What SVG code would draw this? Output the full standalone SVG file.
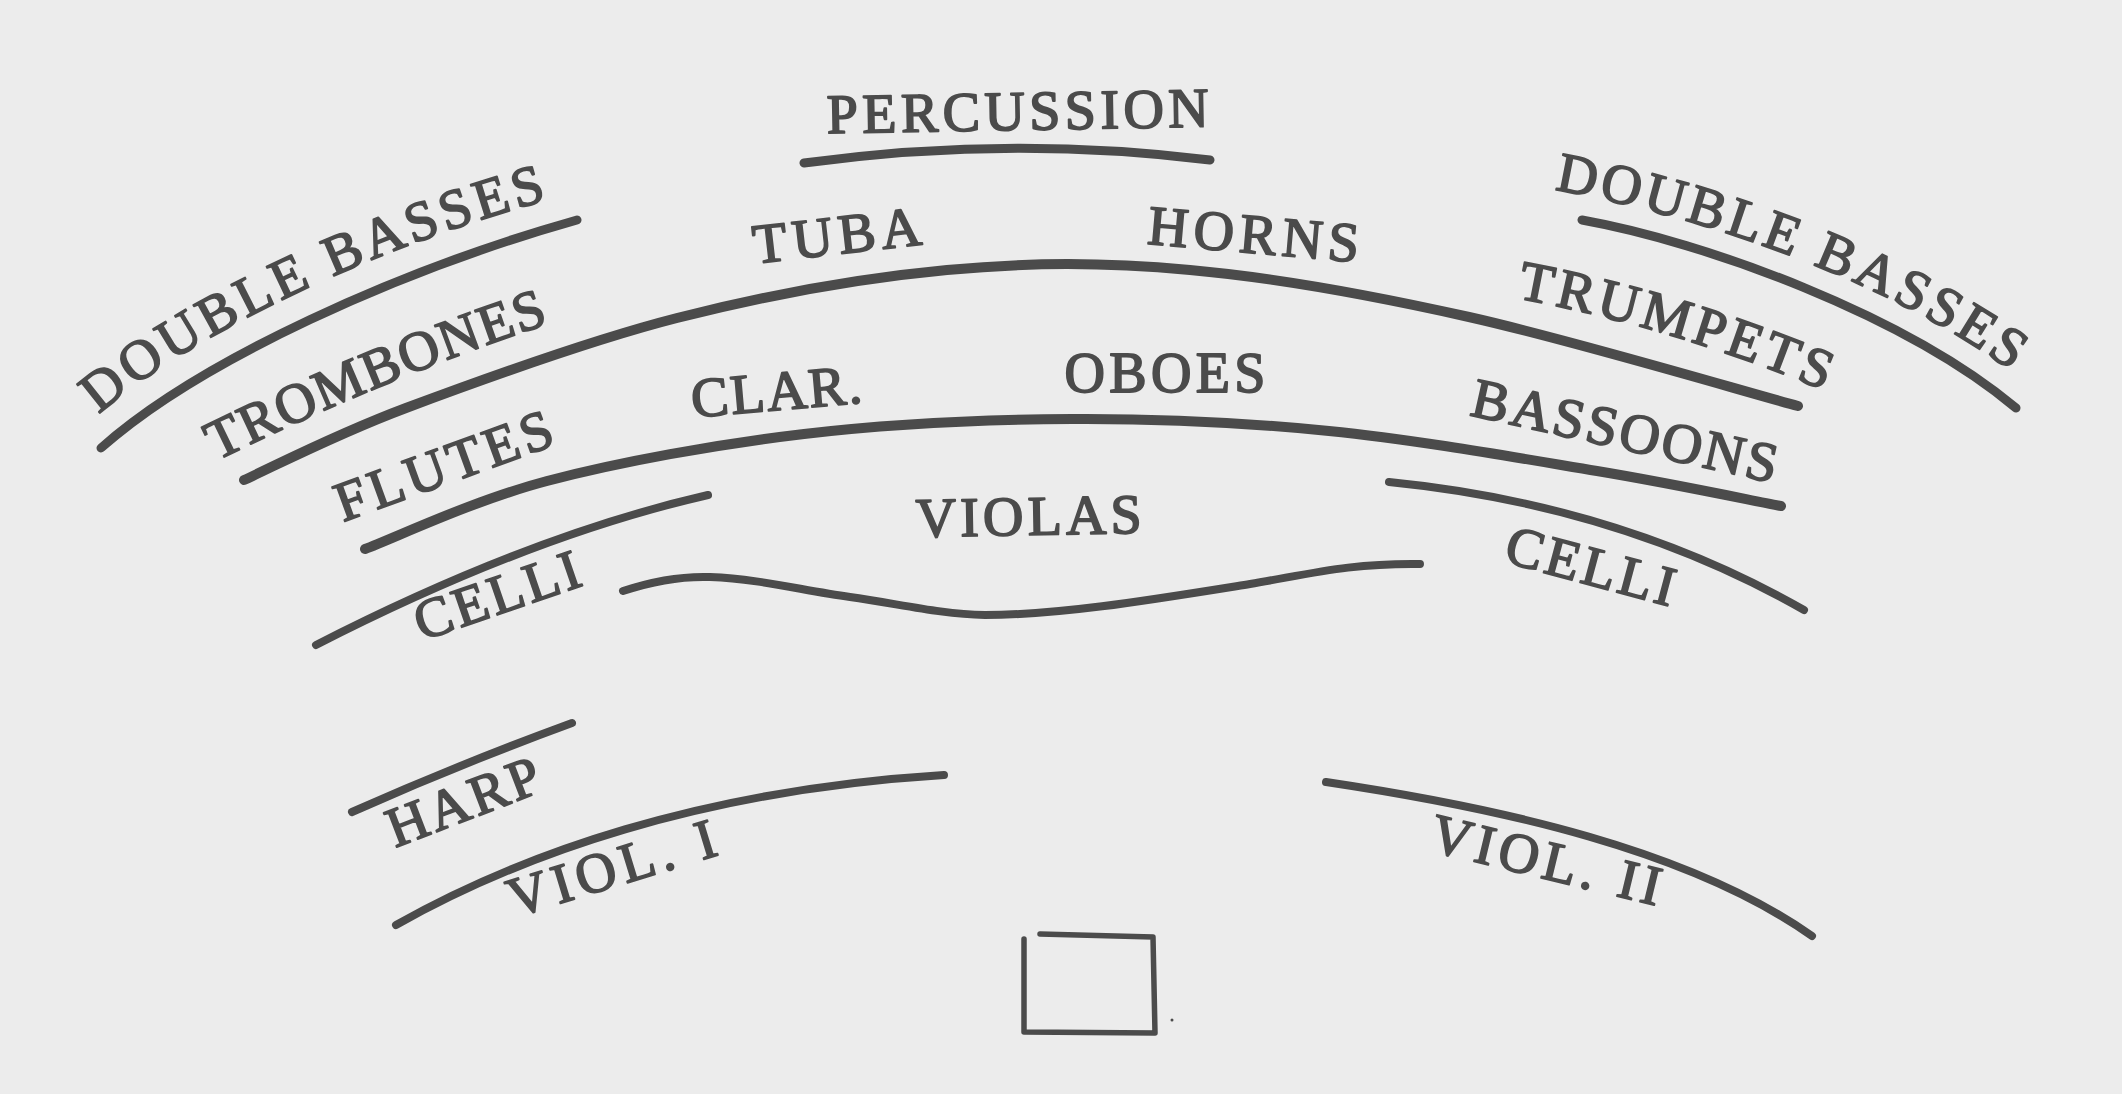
<svg xmlns="http://www.w3.org/2000/svg" xmlns:xlink="http://www.w3.org/1999/xlink" width="2122" height="1094" viewBox="0 0 2122 1094">
  <style>
    .ln { fill: none; stroke: #4b4b4b; stroke-linecap: round; stroke-linejoin: round; }
    .w10 { stroke-width: 10; }
    .w9 { stroke-width: 9; }
    .w8 { stroke-width: 8; }
    .w5 { stroke-width: 5.5; }
    .lbl { font-family: "Liberation Serif", "Times New Roman", serif; font-size: 56px; fill: #4b4b4b; stroke: #4b4b4b; stroke-width: 1.8; stroke-linejoin: round; text-anchor: middle; }
  </style>
  <defs>
    <path id="tp-db-left" d="M98,415 C195,330 390,242 548,200"/>
    <path id="tp-db-right" d="M1556,190 C1680,212 1870,270 2010,370"/>
    <path id="tp-trombones" d="M206,466 Q390,375 560,320"/>
    <path id="tp-trumpets" d="M1505,296 Q1670,325 1835,395"/>
  </defs>
  <rect x="0" y="0" width="2122" height="1094" fill="#ececec"/>

  <g id="lines">
    <path id="line-percussion" class="ln w9" d="M804,163 Q1010,135 1210,160"/>
    <path id="line-db-left" class="ln w9" d="M101,448 C200,360 400,270 577,220"/>
    <path id="line-db-right" class="ln w9" d="M1582,220 C1705,242 1905,315 2016,408"/>
    <path id="line-brass" class="ln w10" d="M244,480 C271,468 333.8,435 406,408 C478.2,381 586.8,341 677,318 C767.2,295 861.5,278 947,270 C1032.5,262 1103,262.2 1190,270 C1277,277.8 1367.7,294.3 1469,317 C1570.3,339.7 1743.2,391.2 1798,406"/>
    <path id="line-winds" class="ln w10" d="M365,549 C395.3,537.7 473.8,500.2 547,481 C620.2,461.8 716.5,444.3 804,434 C891.5,423.7 984.5,419.5 1072,419 C1159.5,418.5 1241.5,422.3 1329,431 C1416.5,439.7 1521.7,458.5 1597,471 C1672.3,483.5 1750.3,500.2 1781,506"/>
    <path id="line-celli-left" class="ln w8" d="M316,645 Q529,536 708,495"/>
    <path id="line-celli-right" class="ln w8" d="M1389,482 Q1620,505 1804,610"/>
    <path id="line-violas" class="ln w8" d="M623,591 C650,582 680,576 710,577 C760,579 800,590 850,597 C900,604 940,614 985,615 C1060,615 1150,600 1250,584 C1310,574 1350,563 1420,564"/>
    <path id="line-harp" class="ln w8" d="M352,812 Q460,764 572,723"/>
    <path id="line-viol1" class="ln w8" d="M396,925 C520,855 700,790 944,775"/>
    <path id="line-viol2" class="ln w8" d="M1326,782 C1500,808 1690,850 1812,936"/>
  </g>

  <g id="conductor">
    <path class="ln w5" d="M1040,934 L1153,937 L1155,1033 L1024,1032 L1024,939"/>
    <circle cx="1172" cy="1020" r="1.5" fill="#4b4b4b"/>
  </g>

  <g id="labels">
    <g id="percussion"><text class="lbl" x="1018" y="130" textLength="382" lengthAdjust="spacing" transform="rotate(-1 1018 130)">PERCUSSION</text></g>
    <g id="double-basses-left"><text class="lbl"><textPath href="#tp-db-left" xlink:href="#tp-db-left" startOffset="50%" textLength="500" lengthAdjust="spacing">DOUBLE BASSES</textPath></text></g>
    <g id="double-basses-right"><text class="lbl"><textPath href="#tp-db-right" xlink:href="#tp-db-right" startOffset="50%" textLength="495" lengthAdjust="spacing">DOUBLE BASSES</textPath></text></g>
    <g id="trombones"><text class="lbl"><textPath href="#tp-trombones" xlink:href="#tp-trombones" startOffset="50%" textLength="360" lengthAdjust="spacing">TROMBONES</textPath></text></g>
    <g id="trumpets"><text class="lbl"><textPath href="#tp-trumpets" xlink:href="#tp-trumpets" startOffset="50%" textLength="322" lengthAdjust="spacing">TRUMPETS</textPath></text></g>
    <g id="tuba"><text class="lbl" x="839" y="254" textLength="169" lengthAdjust="spacing" transform="rotate(-6.5 839 254)">TUBA</text></g>
    <g id="horns"><text class="lbl" x="1252" y="253" textLength="212" lengthAdjust="spacing" transform="rotate(5 1252 253)">HORNS</text></g>
    <g id="flutes"><text class="lbl" x="450" y="483" textLength="228" lengthAdjust="spacing" transform="rotate(-20 450 483)">FLUTES</text></g>
    <g id="clarinets"><text class="lbl" x="778" y="410" textLength="171" lengthAdjust="spacing" transform="rotate(-5 778 410)">CLAR.</text></g>
    <g id="oboes"><text class="lbl" x="1165" y="392" textLength="201" lengthAdjust="spacing">OBOES</text></g>
    <g id="bassoons"><text class="lbl" x="1621" y="449" textLength="312" lengthAdjust="spacing" transform="rotate(12.6 1621 449)">BASSOONS</text></g>
    <g id="violas"><text class="lbl" x="1029" y="535" textLength="226" lengthAdjust="spacing" transform="rotate(-1 1029 535)">VIOLAS</text></g>
    <g id="celli-left"><text class="lbl" x="503" y="613" textLength="172" lengthAdjust="spacing" transform="rotate(-19 503 613)">CELLI</text></g>
    <g id="celli-right"><text class="lbl" x="1586" y="584" textLength="173" lengthAdjust="spacing" transform="rotate(15 1586 584)">CELLI</text></g>
    <g id="harp"><text class="lbl" x="470" y="819" textLength="160" lengthAdjust="spacing" transform="rotate(-21 470 819)">HARP</text></g>
    <g id="violins-1"><text class="lbl" x="617" y="886" textLength="215" lengthAdjust="spacing" transform="rotate(-17 617 886)">VIOL. I</text></g>
    <g id="violins-2"><text class="lbl" x="1542" y="878" textLength="235" lengthAdjust="spacing" transform="rotate(13.6 1542 878)">VIOL. II</text></g>
  </g>
</svg>
